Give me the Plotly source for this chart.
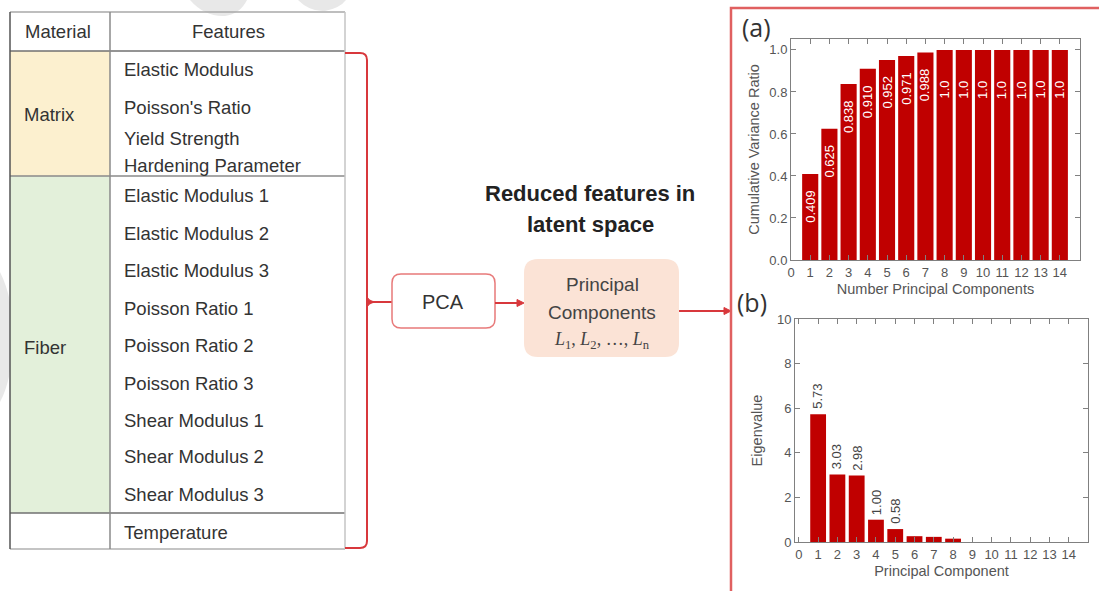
import plotly.graph_objects as go

W, H = 1099, 591

# ---------------- data ----------------
components = list(range(1, 15))
cum_ratio = [0.409, 0.625, 0.838, 0.910, 0.952, 0.971, 0.988, 1.0, 1.0, 1.0, 1.0, 1.0, 1.0, 1.0]
cum_labels = ["0.409", "0.625", "0.838", "0.910", "0.952", "0.971", "0.988",
              "1.0", "1.0", "1.0", "1.0", "1.0", "1.0", "1.0"]
eigenvalues = [5.73, 3.03, 2.98, 1.00, 0.58, 0.26, 0.23, 0.15, 0.0, 0.0, 0.0, 0.0, 0.0, 0.0]
eig_labels = ["5.73", "3.03", "2.98", "1.00", "0.58", "", "", "", "", "", "", "", "", ""]

header_material = "Material"
header_features = "Features"
matrix_label = "Matrix"
fiber_label = "Fiber"
matrix_features = ["Elastic Modulus", "Poisson's Ratio", "Yield Strength", "Hardening Parameter"]
fiber_features = ["Elastic Modulus 1", "Elastic Modulus 2", "Elastic Modulus 3",
                  "Poisson Ratio 1", "Poisson Ratio 2", "Poisson Ratio 3",
                  "Shear Modulus 1", "Shear Modulus 2", "Shear Modulus 3"]
other_features = ["Temperature"]

# ---------------- helpers ----------------
def X(px):
    return px / W

def Y(py):
    return 1 - py / H

def P(px, py):
    return f"{X(px):.5f},{Y(py):.5f}"

def rrect(x0, y0, x1, y1, r):
    return (f"M {P(x0 + r, y0)} L {P(x1 - r, y0)} Q {P(x1, y0)} {P(x1, y0 + r)} "
            f"L {P(x1, y1 - r)} Q {P(x1, y1)} {P(x1 - r, y1)} "
            f"L {P(x0 + r, y1)} Q {P(x0, y1)} {P(x0, y1 - r)} "
            f"L {P(x0, y0 + r)} Q {P(x0, y0)} {P(x0 + r, y0)} Z")

RED = "#c00000"
LINE_RED = "#d8383c"
FRAME_RED = "#e06060"
TXT = "#333333"
FONT = "Liberation Sans, Arial, sans-serif"

fig = go.Figure()

# ---------------- bar charts ----------------
fig.add_trace(go.Bar(
    x=components, y=cum_ratio, width=0.84,
    marker=dict(color=RED, line=dict(width=0)),
    xaxis="x", yaxis="y", showlegend=False, hoverinfo="x+y"))

fig.add_trace(go.Bar(
    x=components, y=eigenvalues, width=0.82,
    marker=dict(color=RED, line=dict(width=0)),
    xaxis="x2", yaxis="y2", showlegend=False, hoverinfo="x+y"))

axis_common = dict(showline=True, linecolor="#808080", linewidth=1, mirror="ticks",
                   ticks="inside", ticklen=5, tickcolor="#808080", showgrid=False,
                   zeroline=False, automargin=False,
                   tickfont=dict(size=13, color="#555", family=FONT),
                   title_font=dict(size=14.5, color="#555", family=FONT))

fig.update_layout(
    xaxis=dict(domain=[X(791), X(1080)], anchor="y", range=[0, 15.05],
               tickvals=list(range(0, 15)), title=dict(text="Number Principal Components", standoff=5),
               **axis_common),
    yaxis=dict(domain=[Y(260), Y(39)], anchor="x", range=[0, 1.052],
               tickvals=[0, 0.2, 0.4, 0.6, 0.8, 1.0], tickformat=".1f",
               title=dict(text="Cumulative Variance Ratio", standoff=6), **axis_common),
    xaxis2=dict(domain=[X(795), X(1088)], anchor="y2", range=[-0.2, 15.0],
                tickvals=list(range(0, 15)), title=dict(text="Principal Component", standoff=5),
                **axis_common),
    yaxis2=dict(domain=[Y(542), Y(319)], anchor="x2", range=[0, 10],
                tickvals=[0, 2, 4, 6, 8, 10],
                title=dict(text="Eigenvalue", standoff=10), **axis_common),
)

shapes = []
annotations = []

# value labels, placed from the data through the axes
for c, v, s in zip(components, cum_ratio, cum_labels):
    annotations.append(dict(x=c, y=v, xref="x", yref="y", text=s, showarrow=False,
                            textangle=-90, xanchor="center", yanchor="bottom", yshift=-51,
                            font=dict(color="white", size=13, family=FONT)))
for c, v, s in zip(components, eigenvalues, eig_labels):
    if s:
        annotations.append(dict(x=c, y=v, xref="x2", yref="y2", text=s, showarrow=False,
                                textangle=-90, xanchor="center", yanchor="bottom", yshift=3,
                                font=dict(color="#444", size=13, family=FONT)))

# ---------------- faint watermark ----------------
wm = "#e8e8e8"
shapes.append(dict(type="path", xref="paper", yref="paper", layer="below", line=dict(width=0),
                   fillcolor=wm,
                   path=f"M {P(190, 0)} Q {P(205, 17)} {P(225, 16)} Q {P(240, 14)} {P(247, 0)} Z"))
shapes.append(dict(type="path", xref="paper", yref="paper", layer="below", line=dict(width=0),
                   fillcolor=wm,
                   path=f"M {P(298, 0)} Q {P(310, 12)} {P(325, 11)} Q {P(340, 8)} {P(346, 0)} Z"))
shapes.append(dict(type="path", xref="paper", yref="paper", layer="below", line=dict(width=0),
                   fillcolor=wm,
                   path=f"M {P(0, 272)} Q {P(14, 300)} {P(13, 340)} Q {P(12, 380)} {P(0, 402)} Z"))

# ---------------- table ----------------
tL, tC, tR = 10, 110, 345
tTop, tHead, tMat, tFib, tBot = 12, 51, 176, 513, 549

shapes.append(dict(type="rect", xref="paper", yref="paper", x0=X(tL), x1=X(tC), y0=Y(tMat), y1=Y(tHead),
                   fillcolor="#fcf0cf", line=dict(width=0), layer="below"))
shapes.append(dict(type="rect", xref="paper", yref="paper", x0=X(tL), x1=X(tC), y0=Y(tFib), y1=Y(tMat),
                   fillcolor="#e3f0da", line=dict(width=0), layer="below"))

def hline(y, x0, x1, color, w=1.5):
    shapes.append(dict(type="line", xref="paper", yref="paper", x0=X(x0), x1=X(x1), y0=Y(y), y1=Y(y),
                       line=dict(color=color, width=w)))

def vline(x, y0, y1, color, w=1.5):
    shapes.append(dict(type="line", xref="paper", yref="paper", x0=X(x), x1=X(x), y0=Y(y0), y1=Y(y1),
                       line=dict(color=color, width=w)))

def arrow_head(xtip, ytip, length=7, half=3.5):
    shapes.append(dict(type="path", xref="paper", yref="paper",
                       path=f"M {P(xtip - length, ytip - half)} L {P(xtip, ytip)} "
                            f"L {P(xtip - length, ytip + half)} Z",
                       fillcolor=LINE_RED, line=dict(color=LINE_RED, width=1)))

hline(tTop, tL, tR, "#a8a8a8")
hline(tHead, tL, tR, "#707070")
hline(tMat, tL, tR, "#8a8a8a")
hline(tFib, tL, tR, "#707070")
hline(tBot, tL, tR, "#b0b0b0")
vline(tL, tTop, tBot, "#555555")
vline(tC, tTop, tBot, "#8a8a8a")
vline(tR, tTop, tBot, "#c4c4c4")

def text(px, py, s, size=18.5, color=TXT, anchor="left", family=FONT):
    annotations.append(dict(x=X(px), y=Y(py), xref="paper", yref="paper", text=s, showarrow=False,
                            xanchor=anchor, yanchor="middle", borderpad=0,
                            font=dict(size=size, color=color, family=family)))

text(58, 32, header_material, anchor="center")
text(228, 32, header_features, anchor="center")
text(23, 114, matrix_label)
text(23, 347, fiber_label)

matrix_y = [70, 107, 138, 165]
fiber_y = [196, 233, 270, 308, 345, 383, 420, 457, 494]
other_y = [532]
for s, yy in zip(matrix_features, matrix_y):
    text(123, yy, s)
for s, yy in zip(fiber_features, fiber_y):
    text(123, yy, s)
for s, yy in zip(other_features, other_y):
    text(123, yy, s)

# ---------------- bracket ----------------
bx = 367
bracket = (f"M {P(345, 53)} L {P(bx - 7, 53)} Q {P(bx, 53)} {P(bx, 60)} "
           f"L {P(bx, 541)} Q {P(bx, 548)} {P(bx - 7, 548)} L {P(345, 548)}")
shapes.append(dict(type="path", xref="paper", yref="paper", path=bracket,
                   line=dict(color=LINE_RED, width=2)))
cusp = f"M {P(bx, 295)} Q {P(bx, 301)} {P(bx + 9, 302)} Q {P(bx, 303)} {P(bx, 309)} Z"
shapes.append(dict(type="path", xref="paper", yref="paper", path=cusp,
                   fillcolor=LINE_RED, line=dict(color=LINE_RED, width=1)))
hline(302, bx, 392, LINE_RED, 2)

# ---------------- PCA box ----------------
shapes.append(dict(type="path", xref="paper", yref="paper", path=rrect(392, 274, 495, 328, 9),
                   fillcolor="white", line=dict(color="#e87a7a", width=1.5)))
text(443, 302, "PCA", size=20, anchor="center", color="#333")

hline(303, 495, 518, LINE_RED, 2)
arrow_head(524, 303)

shapes.append(dict(type="path", xref="paper", yref="paper", path=rrect(524, 259, 679, 357, 14),
                   fillcolor="#fbe3d6", line=dict(width=0)))
text(602, 284, "Principal", size=19, anchor="center", color="#444")
text(602, 312, "Components", size=19, anchor="center", color="#444")
text(602, 340, "<i>L</i><sub>1</sub>, <i>L</i><sub>2</sub>, …, <i>L</i><sub>n</sub>",
     size=18, anchor="center", color="#444", family="Liberation Serif, DejaVu Serif, serif")

text(590, 193, "<b>Reduced features in</b>", size=22, anchor="center", color="#222")
text(590, 225, "<b>latent space</b>", size=22, anchor="center", color="#222")

hline(311, 679, 724, LINE_RED, 2)
arrow_head(731, 311)

# ---------------- red frame ----------------
frame = f"M {P(731, 591)} L {P(731, 8)} L {P(1099, 8)}"
shapes.append(dict(type="path", xref="paper", yref="paper", path=frame,
                   line=dict(color=FRAME_RED, width=2.5)))

text(756, 27, "(a)", size=25, anchor="center", color="#333", family="Open Sans, sans-serif")
text(752, 302, "(b)", size=25, anchor="center", color="#333", family="Open Sans, sans-serif")

fig.update_layout(
    width=W, height=H, margin=dict(l=0, r=0, t=0, b=0),
    paper_bgcolor="white", plot_bgcolor="white",
    shapes=shapes, annotations=annotations, bargap=0.1,
    font=dict(family=FONT),
)

fig.write_html("out.html")
